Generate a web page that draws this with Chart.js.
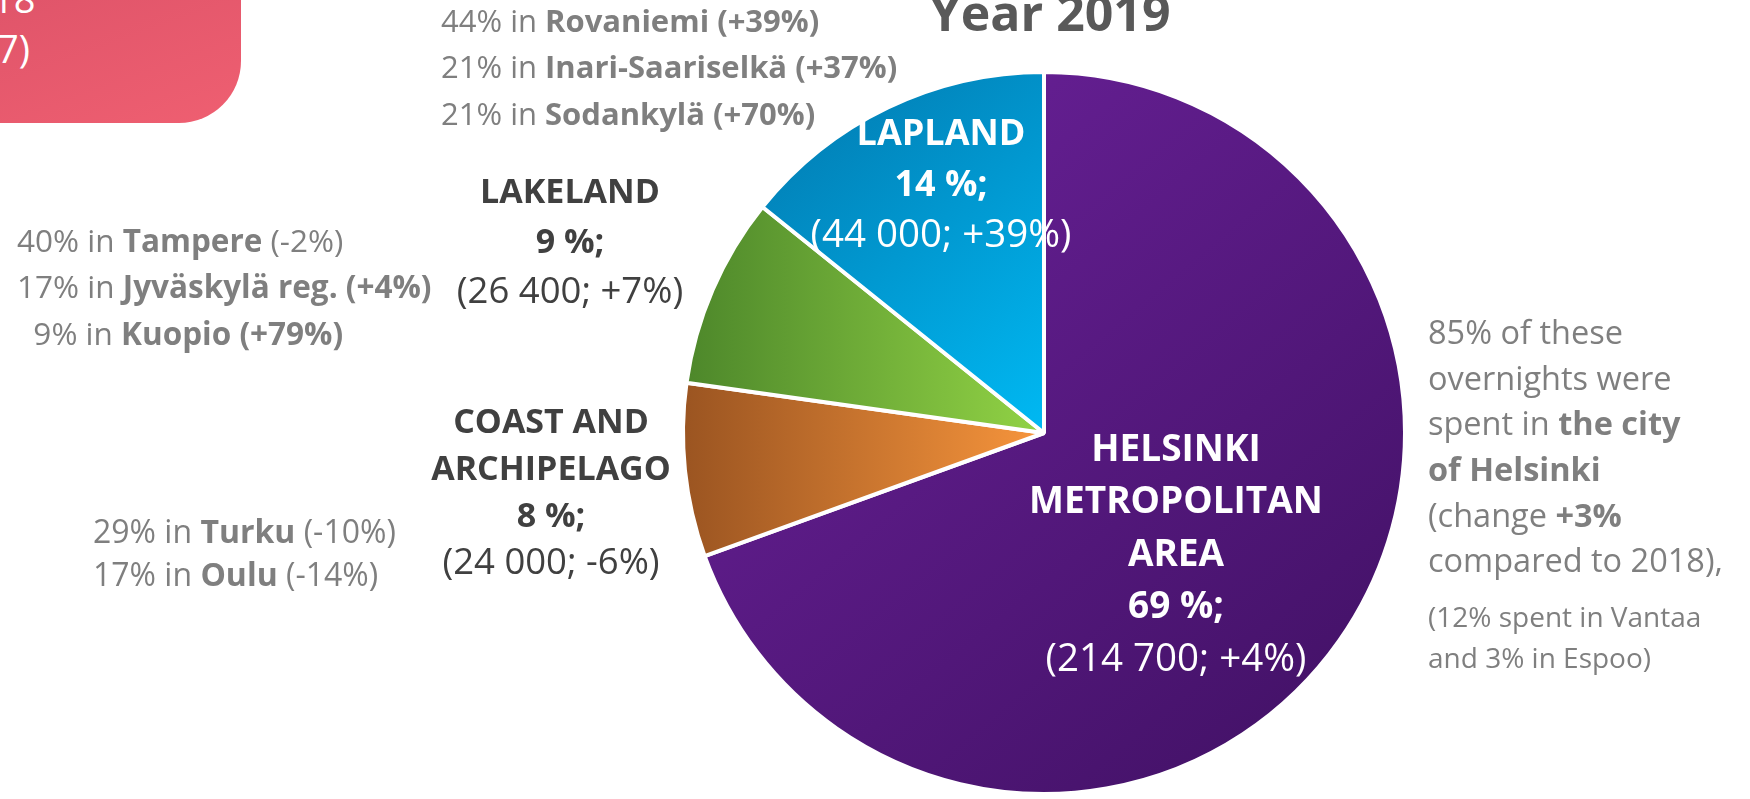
<!DOCTYPE html>
<html>
<head>
<meta charset="utf-8">
<script src="https://cdn.jsdelivr.net/npm/chart.js@4.4.1/dist/chart.umd.min.js"></script>
<style>
  html, body { margin: 0; padding: 0; background: #fff; overflow: hidden; }
  #wrap { position: relative; width: 1750px; height: 799px; }
  #badge {
    position: absolute; left: -40px; top: -40px; width: 281px; height: 163px;
    border-radius: 0 0 62px 0;
    background: linear-gradient(160deg, #dc5268 0%, #ef5f71 100%);
    color: #fff; font-family: "Open Sans", sans-serif; font-size: 38px; line-height: 50px;
  }
  #badge span { position: absolute; white-space: nowrap; }
</style>
</head>
<body>
<div id="wrap">
  <canvas id="pieChart" width="1750" height="799"></canvas>
  <div id="badge"><span style="left:32px; top:13px">18</span><span style="left:37px; top:63px">7)</span></div>
</div>
<script>
// Overnights by region, year 2019
const regions = ['HELSINKI METROPOLITAN AREA', 'COAST AND ARCHIPELAGO', 'LAKELAND', 'LAPLAND'];
const overnights = [214700, 24000, 26400, 44000];
const shares = ['69 %;', '8 %;', '9 %;', '14 %;'];
const changes = ['(214 700; +4%)', '(24 000; -6%)', '(26 400; +7%)', '(44 000; +39%)'];

// label lines for each slice, and offsets from the pie centre
const labelLines = [
    ['HELSINKI', 'METROPOLITAN', 'AREA'],
    ['COAST AND', 'ARCHIPELAGO'],
    ['LAKELAND'],
    ['LAPLAND']
];
const labelAnchors = [
    { dx: 132, dy: 17, color: '#ffffff', bold: 37, plain: 38.5, step: 52.5 },
    { dx: -493, dy: -10, color: '#404040', bold: 34, plain: 36.5, step: 47 },
    { dx: -474, dy: -240, color: '#404040', bold: 34, plain: 36.5, step: 50 },
    { dx: -103, dy: -298, color: '#ffffff', bold: 36, plain: 38.5, step: 50.5 }
];

const FONT = '"Open Sans", Lato, sans-serif';
const GRAY = '#7f7f7f';

// side notes: each line is a list of [text, bold]
const sideNotes = [
    { x: 441, y: 23, size: 31, lines: [
        [['44% in ', false], ['Rovaniemi (+39%)', true]],
        [['21% in ', false], ['Inari-Saariselkä (+37%)', true]],
        [['21% in ', false], ['Sodankylä (+70%)', true]]
    ], step: 46.5 },
    { x: 17, y: 243, size: 31.5, lines: [
        [['40% in ', false], ['Tampere', true], [' (-2%)', false]],
        [['17% in ', false], ['Jyväskylä reg. (+4%)', true]],
        [['  9% in ', false], ['Kuopio (+79%)', true]]
    ], step: 46.5 },
    { x: 93, y: 534, size: 32, lines: [
        [['29% in ', false], ['Turku', true], [' (-10%)', false]],
        [['17% in ', false], ['Oulu', true], [' (-14%)', false]]
    ], step: 43 },
    { x: 1428, y: 335, size: 32.5, lines: [
        [['85% of these', false]],
        [['overnights were', false]],
        [['spent in ', false], ['the city', true]],
        [['of Helsinki', true]],
        [['(change ', false], ['+3%', true]],
        [['compared to 2018),', false]]
    ], step: 45.6 },
    { x: 1428, y: 619, size: 28, lines: [
        [['(12% spent in Vantaa', false]],
        [['and 3% in Espoo)', false]]
    ], step: 41 }
];

function drawRuns(ctx, runs, x, y, size) {
    runs.forEach(([text, bold]) => {
        ctx.font = (bold ? 'bold ' : '') + size + 'px ' + FONT;
        ctx.fillText(text, x, y);
        x += ctx.measureText(text).width;
    });
}

const textPlugin = {
    id: 'textPlugin',
    afterDraw(chart) {
        const ctx = chart.ctx;
        const arc = chart.getDatasetMeta(0).data[0];
        const cx = arc.x, cy = arc.y;
        ctx.save();

        // title, cut off at the top
        ctx.fillStyle = '#595959';
        ctx.textAlign = 'center';
        ctx.textBaseline = 'alphabetic';
        ctx.font = 'bold 50px ' + FONT;
        ctx.fillText('Year 2019', 1050, 31);

        ctx.textBaseline = 'middle';
        // slice labels
        regions.forEach((name, i) => {
            const a = labelAnchors[i];
            let y = cy + a.dy;
            const x = cx + a.dx;
            ctx.fillStyle = a.color;
            ctx.textAlign = 'center';
            ctx.font = 'bold ' + a.bold + 'px ' + FONT;
            labelLines[i].forEach(l => {
                ctx.fillText(l, x, y);
                y += a.step;
            });
            ctx.fillText(shares[i], x, y);
            y += a.step;
            ctx.font = a.plain + 'px ' + FONT;
            ctx.fillText(changes[i], x, y);
        });

        // side notes
        ctx.textAlign = 'left';
        ctx.fillStyle = GRAY;
        sideNotes.forEach(n => {
            n.lines.forEach((runs, k) => drawRuns(ctx, runs, n.x, n.y + k * n.step, n.size));
        });
        ctx.restore();
    }
};

// gradient fill per slice
function sliceFill(context) {
    const chart = context.chart;
    const area = chart.chartArea;
    if (!area) return '#888';
    const c = chart.ctx;
    const i = context.dataIndex;
    let g;
    if (i === 0) {
        g = c.createLinearGradient(area.left + 120, area.top, area.right, area.bottom);
        g.addColorStop(0, '#6a2199');
        g.addColorStop(1, '#3f1062');
    } else if (i === 1) {
        g = c.createLinearGradient(area.left, 0, area.left + 363, 0);
        g.addColorStop(0, '#9a5421');
        g.addColorStop(1, '#f7953c');
    } else if (i === 2) {
        g = c.createLinearGradient(area.left, 0, area.left + 363, 0);
        g.addColorStop(0, '#4c862a');
        g.addColorStop(1, '#92d345');
    } else {
        g = c.createLinearGradient(area.left + 80, area.top, area.left + 363, area.top + 363);
        g.addColorStop(0, '#0277ad');
        g.addColorStop(1, '#00b9f3');
    }
    return g;
}

const ctx = document.getElementById('pieChart').getContext('2d');
new Chart(ctx, {
    type: 'pie',
    data: {
        labels: regions,
        datasets: [{
            data: overnights,
            backgroundColor: sliceFill,
            borderColor: '#ffffff',
            borderWidth: 4
        }]
    },
    options: {
        responsive: false,
        animation: false,
        layout: { padding: { left: 681, right: 343, top: 70, bottom: 3 } },
        plugins: {
            legend: { display: false },
            tooltip: { enabled: false }
        }
    },
    plugins: [textPlugin]
});
</script>
</body>
</html>
